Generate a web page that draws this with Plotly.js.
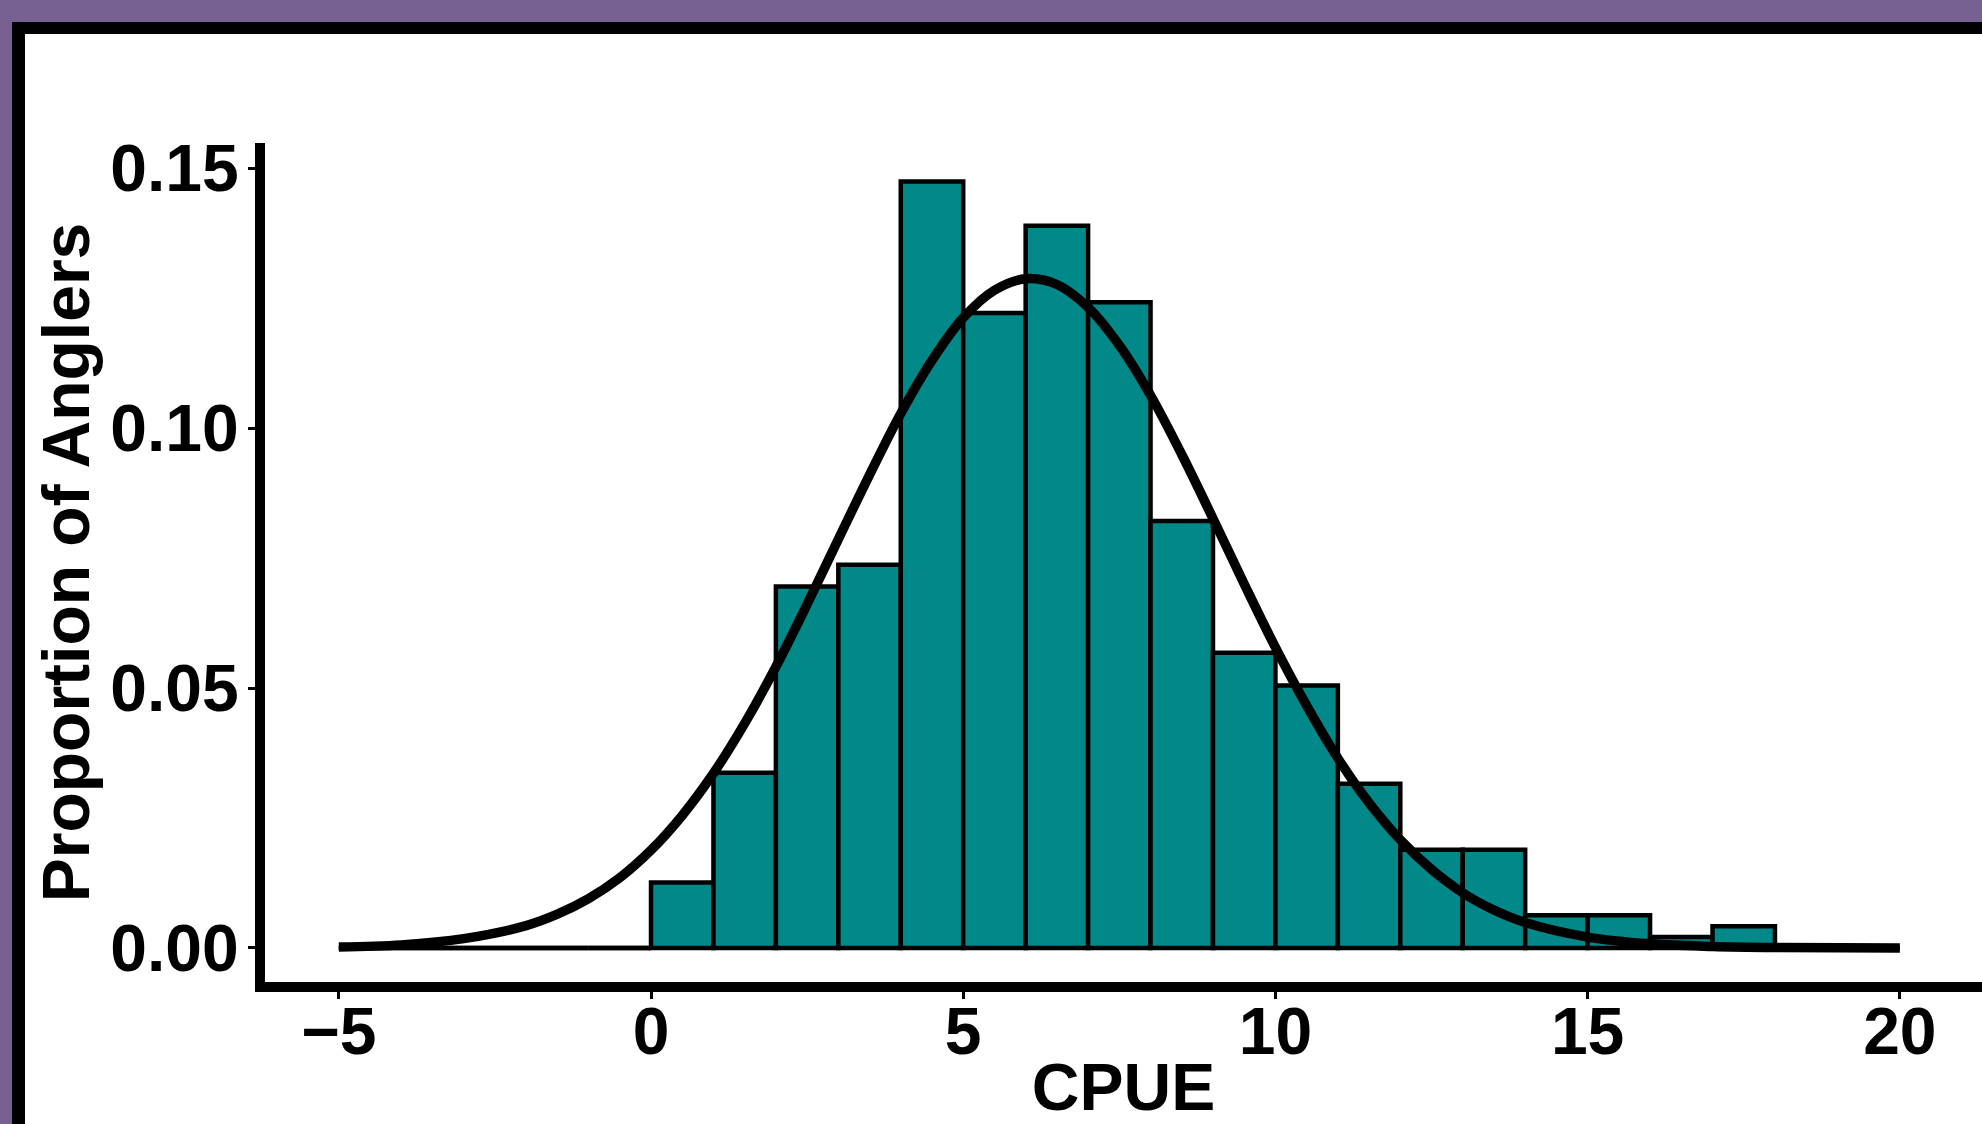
<!DOCTYPE html>
<html>
<head>
<meta charset="utf-8">
<script src="https://cdn.plot.ly/plotly-3.0.1.min.js"></script>
<style>
  html, body { margin: 0; padding: 0; background: #766190; }
  #chart { width: 1982px; height: 1124px; }
</style>
</head>
<body>
<div id="chart"></div>
<script>
// ---- Data ----
// Histogram bins (left edges, width 1) and proportion of anglers in each bin
const binStart = [-5, -4, -3, -2, -1, 0, 1, 2, 3, 4, 5, 6, 7, 8, 9, 10, 11, 12, 13, 14, 15, 16, 17, 18, 19];
const proportion = [0, 0, 0, 0, 0,
  0.0126, 0.0337, 0.0695, 0.0737, 0.1474, 0.1221, 0.1389, 0.1242, 0.0821,
  0.0568, 0.0505, 0.0316, 0.0189, 0.0189, 0.0063, 0.0063, 0.0021, 0.0042,
  0, 0];

// Fitted density curve
const curveX = [-5, -4, -3, -2, -1.5, -1, -0.5, 0, 0.5, 1, 1.5, 2, 2.5, 3, 3.5, 4, 4.5, 5, 5.5, 6,
  6.5, 7, 7.5, 8, 8.5, 9, 9.5, 10, 10.5, 11, 11.5, 12, 12.5, 13, 13.5, 14, 15, 16, 17, 18, 20];
const curveY = [0.0002, 0.0006, 0.0018, 0.0043, 0.0065, 0.0095, 0.0135, 0.0188, 0.0255, 0.0336,
  0.0432, 0.0541, 0.0661, 0.0786, 0.0910, 0.1028, 0.1130, 0.1212, 0.1265, 0.1287,
  0.1276, 0.1232, 0.1159, 0.1063, 0.0949, 0.0826, 0.0700, 0.0578, 0.0466, 0.0365,
  0.0279, 0.0208, 0.0151, 0.0106, 0.0073, 0.0049, 0.0021, 0.0008, 0.0003, 0.0001, 0.0000];

const xTickVals = [-5, 0, 5, 10, 15, 20];
const xTickText = ['\u22125', '0', '5', '10', '15', '20'];
const yTickVals = [0, 0.05, 0.10, 0.15];
const yTickText = ['0.00', '0.05', '0.10', '0.15'];

// ---- Styling ----
const TEAL = '#01898A';
const PURPLE = '#766190';
const FONT = 'Liberation Sans, Arial, Helvetica, sans-serif';

// zero-height bins are drawn as flat outlines on the baseline
const zeroX = [], zeroY = [];
binStart.forEach((b, i) => {
  if (proportion[i] === 0) {
    zeroX.push(b, b + 1, null);
    zeroY.push(0, 0, null);
  }
});

const bars = {
  type: 'bar',
  x: binStart,
  y: proportion,
  width: 1,
  offset: 0,
  marker: { color: TEAL, line: { color: 'black', width: 4.5 } },
  hoverinfo: 'x+y',
  showlegend: false
};

const zeroBins = {
  type: 'scatter', mode: 'lines',
  x: zeroX, y: zeroY,
  line: { color: 'black', width: 4.5 },
  hoverinfo: 'skip', showlegend: false
};

const curve = {
  type: 'scatter', mode: 'lines',
  x: curveX, y: curveY,
  line: { color: 'black', width: 9.5, shape: 'spline', smoothing: 1 },
  showlegend: false
};

// plot-area geometry in pixels
const W = 1982, H = 1124;
const L = 265, R = 0, T = 143, B = 142;
const pw = W - L - R, ph = H - T - B;
const px = v => (v - L) / pw;          // pixel -> paper x
const py = v => (H - B - v) / ph;      // pixel -> paper y

const layout = {
  width: W, height: H,
  margin: { l: L, r: R, t: T, b: B, pad: 0 },
  paper_bgcolor: PURPLE,
  plot_bgcolor: 'rgba(0,0,0,0)',
  bargap: 0,
  font: { family: FONT, color: 'black' },
  xaxis: {
    range: [-6.182, 21.316],
    tickvals: xTickVals, ticktext: xTickText,
    ticks: 'outside', ticklen: 7, tickwidth: 3, tickcolor: 'black',
    ticklabelstandoff: -24,
    tickfont: { family: FONT, size: 66, color: 'black', weight: 'bold' },
    showline: true, linecolor: 'black', linewidth: 10,
    showgrid: false, zeroline: false,
    title: { text: 'CPUE', font: { family: FONT, size: 66, color: 'black', weight: 'bold' }, standoff: 12 }
  },
  yaxis: {
    range: [-0.00654, 0.15481],
    tickvals: yTickVals, ticktext: yTickText,
    ticks: 'outside', ticklen: 7, tickwidth: 3, tickcolor: 'black',
    ticklabelstandoff: -4,
    tickfont: { family: FONT, size: 66, color: 'black', weight: 'bold' },
    showline: true, linecolor: 'black', linewidth: 10,
    showgrid: false, zeroline: false,
    title: { text: 'Proportion of Anglers', font: { family: FONT, size: 66, color: 'black', weight: 'bold' }, standoff: 3 }
  },
  shapes: [
    { type: 'rect', xref: 'paper', yref: 'paper', layer: 'below',
      x0: px(12), x1: px(W + 20), y0: py(22), y1: py(H + 20),
      fillcolor: 'black', line: { width: 0 } },
    { type: 'rect', xref: 'paper', yref: 'paper', layer: 'below',
      x0: px(25), x1: px(W + 20), y0: py(34), y1: py(H + 20),
      fillcolor: 'white', line: { width: 0 } }
  ]
};

Plotly.newPlot('chart', [bars, zeroBins, curve], layout, { displayModeBar: false, staticPlot: true });
</script>
</body>
</html>
